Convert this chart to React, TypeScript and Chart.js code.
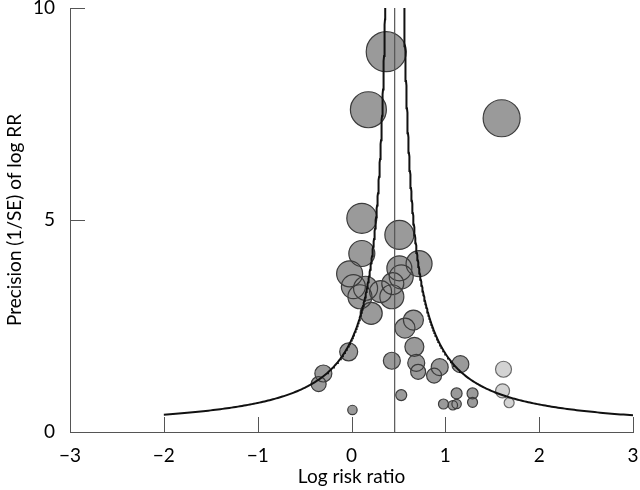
import React, { useEffect, useRef } from "react";
import { Chart, registerables } from "chart.js";

Chart.register(...registerables);

// ---- axis ticks ----
const xTickValues = [-3, -2, -1, 0, 1, 2, 3];
const yTickValues = [0, 5, 10];

// ---- pooled estimate and funnel limits ----
const pooledLogRR = 0.46;
const funnelMultiplier = 1.0;
const funnelLeftEnd = -2;
const funnelRightEnd = 3;
const precisionMax = 10;

// ---- studies: log risk ratio, precision (1/SE), bubble radius, group ----
const studyLogRR = [
  0.37, 0.18, 1.6, 0.11, 0.51, 0.11, 0.72, -0.02, 0.51, 0.53,
  0.02, 0.15, 0.09, 0.31, 0.44, 0.43, 0.21, 0.66, 0.57, 0.67,
  -0.03, 0.43, 0.69, 0.71, 0.94, 0.88, 1.16, -0.3, -0.35, 0.53,
  0.01, 1.12, 1.29, 1.29, 0.98, 1.08, 1.12, 1.62, 1.61, 1.68,
];
const studyPrecision = [
  8.97, 7.6, 7.4, 5.04, 4.65, 4.21, 3.97, 3.73, 3.86, 3.66,
  3.43, 3.39, 3.19, 3.31, 3.5, 3.19, 2.8, 2.64, 2.45, 2.01,
  1.89, 1.68, 1.63, 1.42, 1.53, 1.33, 1.6, 1.38, 1.13, 0.87,
  0.52, 0.91, 0.91, 0.7, 0.66, 0.63, 0.66, 1.48, 0.97, 0.69,
];
const studyRadius = [
  20, 18, 18.5, 15, 14.5, 13, 13, 13, 12.5, 12,
  12, 12, 12, 11, 11, 12, 11, 10, 10, 9.5,
  9, 8.5, 8.5, 7.5, 8.5, 7.5, 8.5, 8.5, 7.5, 5.5,
  4.7, 5.5, 5.5, 5, 5, 4.7, 4.7, 8, 7, 5,
];
const studyGroup = [
  "dark", "dark", "dark", "dark", "dark", "dark", "dark", "dark", "dark", "dark",
  "dark", "dark", "dark", "dark", "dark", "dark", "dark", "dark", "dark", "dark",
  "dark", "dark", "dark", "dark", "dark", "dark", "dark", "dark", "dark", "dark",
  "dark", "dark", "dark", "dark", "dark", "dark", "dark", "light", "light", "light",
];

const FONT = "Lato, 'DejaVu Sans', sans-serif";
const AXIS_COLOR = "#555555";

function funnelBranch(side: number) {
  const end = side < 0 ? funnelLeftEnd : funnelRightEnd;
  const pMin = funnelMultiplier / Math.abs(end - pooledLogRR);
  const pts: { x: number; y: number }[] = [];
  const n = 240;
  for (let i = 0; i <= n; i++) {
    const p = pMin * Math.pow(precisionMax / pMin, i / n);
    pts.push({ x: pooledLogRR + side * (funnelMultiplier / p), y: p });
  }
  return pts;
}

const innerTicks = {
  id: "innerTicks",
  afterDatasetsDraw(chart: any) {
    const { ctx, chartArea, scales } = chart;
    const len = 15;
    ctx.save();
    ctx.strokeStyle = AXIS_COLOR;
    ctx.lineWidth = 1;
    ctx.beginPath();
    for (const v of xTickValues) {
      if (v <= scales.x.min) continue;
      const px = Math.round(scales.x.getPixelForValue(v)) + 0.5;
      ctx.moveTo(px, chartArea.bottom);
      ctx.lineTo(px, chartArea.bottom - len);
    }
    for (const v of yTickValues) {
      if (v <= scales.y.min) continue;
      const py = Math.round(scales.y.getPixelForValue(v)) + 0.5;
      ctx.moveTo(chartArea.left, py);
      ctx.lineTo(chartArea.left + len, py);
    }
    ctx.stroke();
    ctx.restore();
  },
};

function fmt(v: number) {
  return v < 0 ? "\u2212" + Math.abs(v) : String(v);
}

export default function App() {
  const ref = useRef<HTMLCanvasElement | null>(null);

  useEffect(() => {
    if (!ref.current) return;
    const bubbles = studyLogRR.map((x, i) => ({ x, y: studyPrecision[i], r: studyRadius[i] }));
    const fills = studyGroup.map((g) => (g === "light" ? "#d3d3d3" : "#9a9a9a"));
    const borders = studyGroup.map((g) => (g === "light" ? "#6a6a6a" : "#3c3c3c"));

    const chart = new Chart(ref.current, {
      type: "bubble",
      data: {
        datasets: [
          {
            type: "line",
            data: funnelBranch(-1),
            borderColor: "#111111",
            borderWidth: 2,
            pointRadius: 0,
            fill: false,
            tension: 0,
            order: 0,
          } as any,
          {
            type: "line",
            data: funnelBranch(1),
            borderColor: "#111111",
            borderWidth: 2,
            pointRadius: 0,
            fill: false,
            tension: 0,
            order: 0,
          } as any,
          {
            type: "line",
            data: [
              { x: pooledLogRR, y: yTickValues[0] },
              { x: pooledLogRR, y: yTickValues[yTickValues.length - 1] },
            ],
            borderColor: "#555555",
            borderWidth: 1.2,
            pointRadius: 0,
            fill: false,
            order: 0,
          } as any,
          {
            type: "bubble",
            data: bubbles,
            backgroundColor: fills,
            borderWidth: 0,
            order: 3,
          } as any,
          {
            type: "bubble",
            data: bubbles,
            backgroundColor: "rgba(0,0,0,0)",
            borderColor: borders,
            borderWidth: 1.2,
            order: 2,
          } as any,
        ],
      },
      options: {
        responsive: false,
        animation: false,
        events: [],
        layout: { autoPadding: false, padding: { top: 8, right: 7, left: 0, bottom: 0 } },
        plugins: {
          legend: { display: false },
          tooltip: { enabled: false },
        },
        scales: {
          x: {
            type: "linear",
            min: xTickValues[0],
            max: xTickValues[xTickValues.length - 1],
            afterFit: (s: any) => {
              s.height = 58;
              s.paddingLeft = 0;
              s.paddingRight = 0;
            },
            grid: { display: false },
            border: { display: true, color: AXIS_COLOR, width: 1 },
            ticks: {
              stepSize: 1,
              padding: 4,
              color: "#000",
              font: { family: FONT, size: 19 },
              callback: (v: any) => fmt(Number(v)),
            },
            title: {
              display: true,
              text: "Log risk ratio",
              color: "#000",
              font: { family: FONT, size: 19, lineHeight: 0.9 },
              padding: { top: 0, bottom: 4.5 },
            },
          },
          y: {
            type: "linear",
            min: yTickValues[0],
            max: yTickValues[yTickValues.length - 1],
            afterFit: (s: any) => {
              s.width = 70;
              s.paddingTop = 0;
              s.paddingBottom = 0;
            },
            grid: { display: false },
            border: { display: true, color: AXIS_COLOR, width: 1 },
            ticks: {
              stepSize: 5,
              padding: 7,
              color: "#000",
              font: { family: FONT, size: 19 },
              callback: (v: any) => fmt(Number(v)),
            },
            title: {
              display: true,
              text: "Precision (1/SE) of log RR",
              color: "#000",
              font: { family: FONT, size: 19 },
              padding: { top: 3, bottom: 0 },
            },
          },
        },
      },
      plugins: [innerTicks],
    });
    return () => chart.destroy();
  }, []);

  return (
    <div style={{ position: "fixed", left: 0, top: 0, width: 640, height: 490, background: "#fff" }}>
      <canvas ref={ref} width={640} height={490} style={{ display: "block" }} />
    </div>
  );
}
